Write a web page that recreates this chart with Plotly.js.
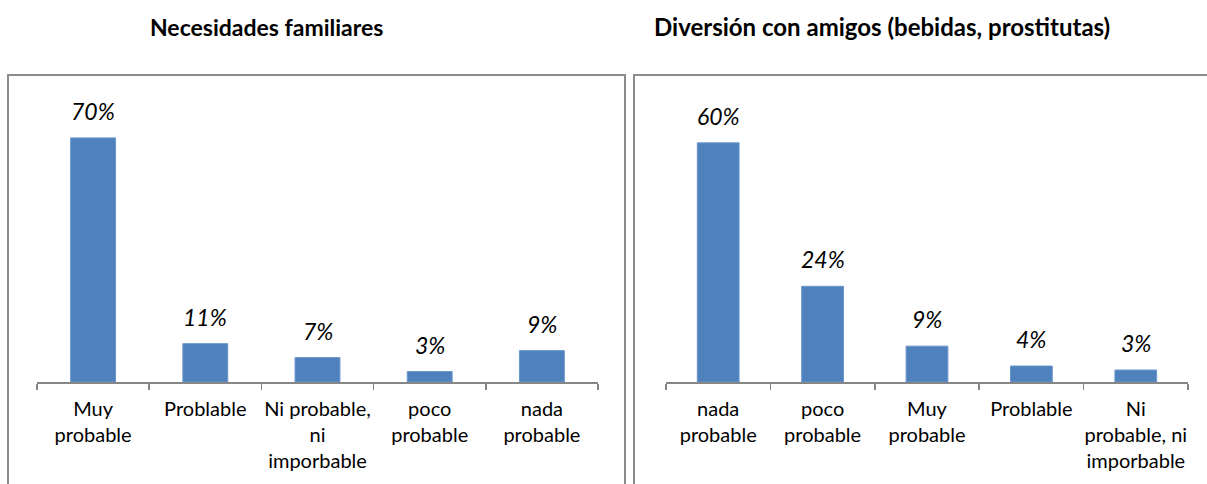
<!DOCTYPE html>
<html>
<head>
<meta charset="utf-8">
<script src="https://cdn.plot.ly/plotly-3.0.1.min.js"></script>
<style>
  html, body { margin: 0; padding: 0; background: #ffffff; }
  #chart { width: 1207px; height: 484px; }
</style>
</head>
<body>
<div id="chart"></div>
<script>
// ---- Data ----
const title1 = "Necesidades familiares";
const categories1 = ["Muy<br>probable", "Problable", "Ni probable,<br>ni<br>imporbable", "poco<br>probable", "nada<br>probable"];
const values1 = [70, 11, 7, 3, 9];

const title2 = "Diversión con amigos (bebidas, prostitutas)";
const categories2 = ["nada<br>probable", "poco<br>probable", "Muy<br>probable", "Problable", "Ni<br>probable, ni<br>imporbable"];
const values2 = [60, 24, 9, 4, 3];

// ---- Styling ----
const W = 1207, H = 484;
const px = v => v / W;
const py = v => 1 - v / H;
const barColor = "#4F81BD";
const axisColor = "#868686";
const font = "Lato, 'Open Sans', sans-serif";

const bar1 = {
  type: "bar", x: categories1, y: values1, xaxis: "x", yaxis: "y",
  marker: { color: barColor, line: { color: "#6a96cc", width: 1 } },
  hoverinfo: "skip", showlegend: false
};
const bar2 = {
  type: "bar", x: categories2, y: values2, xaxis: "x2", yaxis: "y2",
  marker: { color: barColor, line: { color: "#6a96cc", width: 1 } },
  hoverinfo: "skip", showlegend: false
};

function labels(cats, vals, xa, ya) {
  return cats.map((c, i) => ({
    x: c, y: vals[i], xref: xa, yref: ya,
    text: vals[i] + "%", showarrow: false,
    xanchor: "center", yanchor: "bottom", yshift: 11,
    font: { family: font, size: 23, color: "#000000", style: "italic" }
  }));
}

const xaxisBase = {
  type: "category", showline: true, linecolor: axisColor, linewidth: 1.5,
  ticks: "outside", tickson: "boundaries", ticklen: 6, tickcolor: axisColor, tickwidth: 1.5,
  tickangle: 0, ticklabelstandoff: 8,
  tickfont: { family: font, size: 20, color: "#000000" },
  showgrid: false, zeroline: false, fixedrange: true
};
const yaxisBase = { showgrid: false, zeroline: false, showticklabels: false, showline: false, ticks: "", fixedrange: true };

const layout = {
  width: W, height: H,
  margin: { l: 0, r: 0, t: 0, b: 0 },
  paper_bgcolor: "#ffffff", plot_bgcolor: "rgba(0,0,0,0)",
  bargap: 0.6,
  xaxis: Object.assign({}, xaxisBase, { domain: [px(37), px(598)], anchor: "y" }),
  yaxis: Object.assign({}, yaxisBase, { domain: [py(382), py(103)], range: [0, 80], anchor: "x" }),
  xaxis2: Object.assign({}, xaxisBase, { domain: [px(666), px(1188)], anchor: "y2" }),
  yaxis2: Object.assign({}, yaxisBase, { domain: [py(382), py(103)], range: [0, 70], anchor: "x2" }),
  shapes: [
    { type: "rect", xref: "paper", yref: "paper", x0: px(8), x1: px(625), y0: py(495), y1: py(75),
      line: { color: "#8c8c8c", width: 2 }, fillcolor: "rgba(0,0,0,0)" },
    { type: "rect", xref: "paper", yref: "paper", x0: px(634), x1: px(1215), y0: py(495), y1: py(75),
      line: { color: "#8c8c8c", width: 2 }, fillcolor: "rgba(0,0,0,0)" }
  ],
  annotations: [
    { text: "<b>" + title1 + "</b>", xref: "paper", yref: "paper", x: px(266), y: py(27),
      xanchor: "center", yanchor: "middle",
      showarrow: false, font: { family: font, size: 23, color: "#000000" } },
    { text: "<b>" + title2 + "</b>", xref: "paper", yref: "paper", x: px(882), y: py(27),
      xanchor: "center", yanchor: "middle",
      showarrow: false, font: { family: font, size: 24, color: "#000000" } }
  ].concat(labels(categories1, values1, "x", "y"), labels(categories2, values2, "x2", "y2"))
};

Plotly.newPlot("chart", [bar1, bar2], layout, { displayModeBar: false, staticPlot: true });
</script>
</body>
</html>
